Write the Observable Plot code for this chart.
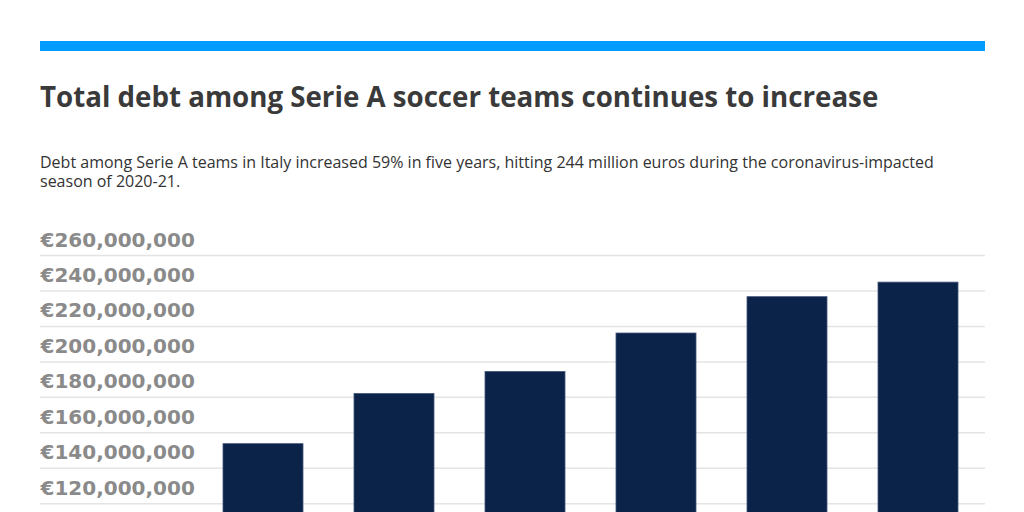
<!DOCTYPE html>
<html>
<head>
<meta charset="utf-8">
<script src="https://cdn.jsdelivr.net/npm/d3@7"></script>
<script src="https://cdn.jsdelivr.net/npm/@observablehq/plot@0.6"></script>
<style>
  html, body { margin: 0; padding: 0; background: #fff; width: 1024px; height: 512px; overflow: hidden; }
  #bar { position: absolute; left: 40px; top: 41px; width: 945px; height: 10px; background: #009cff; }
  #title { position: absolute; left: 40px; top: 76.5px; margin: 0; font-family: "Open Sans", sans-serif; font-weight: 700; font-size: 27.7px; color: #3a3a3a; white-space: nowrap; }
  #subtitle { position: absolute; left: 40px; top: 153px; width: 935px; margin: 0; font-family: "Open Sans", sans-serif; font-size: 16px; line-height: 19px; color: #333; }
  #chart { position: absolute; left: 0; top: 200px; }
</style>
</head>
<body>
<div id="bar"></div>
<h1 id="title">Total debt among Serie A soccer teams continues to increase</h1>
<p id="subtitle">Debt among Serie A teams in Italy increased 59% in five years, hitting 244 million euros during the coronavirus-impacted season of 2020-21.</p>
<div id="chart"></div>
<script>
const seasons = ["2015-16", "2016-17", "2017-18", "2018-19", "2019-20", "2020-21"];
const debt = [153600000, 181900000, 194300000, 216000000, 236500000, 244700000];
const yTicks = [0, 20000000, 40000000, 60000000, 80000000, 100000000, 120000000, 140000000, 160000000, 180000000, 200000000, 220000000, 240000000, 260000000];

const data = seasons.map((s, i) => ({season: s, debt: debt[i]}));
const fmt = d => "€" + d3.format(",")(d);

const chart = Plot.plot({
  width: 1024,
  height: 546,
  marginLeft: 40,
  marginRight: 39,
  marginTop: 55,
  marginBottom: 30,
  style: {fontFamily: "Open Sans, sans-serif", background: "transparent"},
  x: {domain: seasons, range: [195, 985], paddingInner: 0.39, paddingOuter: 0.206, label: null},
  y: {domain: [0, 260000000], label: null},
  marks: [
    Plot.gridY(yTicks, {stroke: "#e4e4e4", strokeOpacity: 1, strokeWidth: 1.5}),
    Plot.barY(data, {x: "season", y: "debt", fill: "#0b2249", stroke: "#44557a", strokeWidth: 0.8}),
    Plot.axisY(yTicks, {anchor: "left", tickSize: 0, tickPadding: 0, textAnchor: "start", lineAnchor: "bottom", dy: -9, tickFormat: fmt, fontSize: 20, fontWeight: 700, fontFamily: "DejaVu Sans", fill: "#8a8a8a", label: null}),
    Plot.axisX({tickSize: 0, fontSize: 14, fill: "#555", label: null})
  ]
});
document.getElementById("chart").appendChild(chart);
</script>
</body>
</html>
